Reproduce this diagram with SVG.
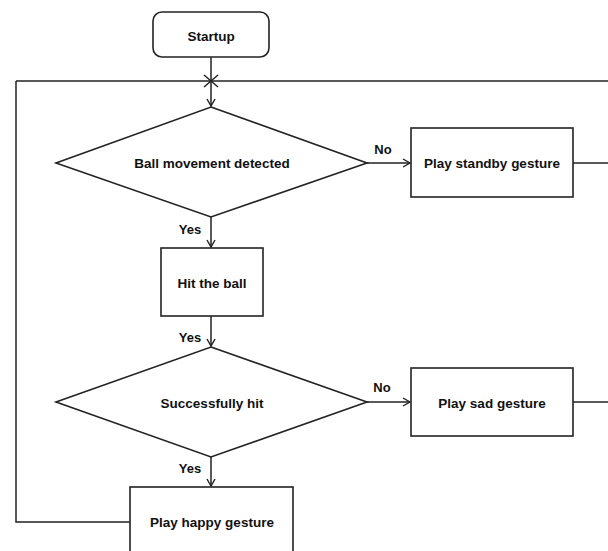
<svg xmlns="http://www.w3.org/2000/svg" width="608" height="551" viewBox="0 0 608 551">
<defs>
<marker id="arr" markerWidth="10" markerHeight="10" refX="8" refY="5" orient="auto" markerUnits="userSpaceOnUse">
<path d="M1,1 L8,5 L1,9" fill="none" stroke="#222" stroke-width="1.4"/>
</marker>
</defs>
<style>
.shape{fill:#fff;stroke:#222;stroke-width:1.6}
.line{fill:none;stroke:#222;stroke-width:1.5}
.t{font-family:"Liberation Sans",Arial,sans-serif;font-weight:bold;font-size:13.5px;fill:#111;text-anchor:middle;dominant-baseline:central}
.lbl{font-family:"Liberation Sans",Arial,sans-serif;font-weight:bold;font-size:13px;fill:#111;text-anchor:middle;dominant-baseline:central}
</style>
<rect width="608" height="551" fill="#fff"/>
<g id="connectors">
<path class="line" d="M211,57 V81"/>
<path class="line" d="M16,81 H608"/>
<path class="line" d="M204,75 L218,87 M218,75 L204,87"/>
<path class="line" d="M211,81 V106" marker-end="url(#arr)"/>
<path class="line" d="M367,163 H410" marker-end="url(#arr)"/>
<path class="line" d="M573,163 H608"/>
<path class="line" d="M211,217 V247" marker-end="url(#arr)"/>
<path class="line" d="M211,316 V346" marker-end="url(#arr)"/>
<path class="line" d="M367,402 H410" marker-end="url(#arr)"/>
<path class="line" d="M573,402 H608"/>
<path class="line" d="M211,457 V486" marker-end="url(#arr)"/>
<path class="line" d="M130,522 H16 V81"/>
<text class="lbl" x="383" y="149">No</text>
<text class="lbl" x="190" y="229">Yes</text>
<text class="lbl" x="190" y="337">Yes</text>
<text class="lbl" x="382" y="387">No</text>
<text class="lbl" x="190" y="468">Yes</text>
</g>
<g id="startup">
<rect class="shape" x="153" y="12" width="116" height="45" rx="9"/>
<text class="t" x="211" y="36">Startup</text>
</g>
<g id="ball-detected">
<polygon class="shape" points="211,107 367,163 211,217 56,163"/>
<text class="t" x="212" y="163">Ball movement detected</text>
</g>
<g id="standby">
<rect class="shape" x="411" y="128" width="162" height="69"/>
<text class="t" x="492" y="163">Play standby gesture</text>
</g>
<g id="hit">
<rect class="shape" x="161" y="248" width="102" height="68"/>
<text class="t" x="212" y="283">Hit the ball</text>
</g>
<g id="success">
<polygon class="shape" points="211,347 367,402 211,457 56,402"/>
<text class="t" x="212" y="403">Successfully hit</text>
</g>
<g id="sad">
<rect class="shape" x="411" y="368" width="162" height="68"/>
<text class="t" x="492" y="403">Play sad gesture</text>
</g>
<g id="happy">
<rect class="shape" x="130" y="487" width="163" height="70"/>
<text class="t" x="212" y="522">Play happy gesture</text>
</g>
</svg>
